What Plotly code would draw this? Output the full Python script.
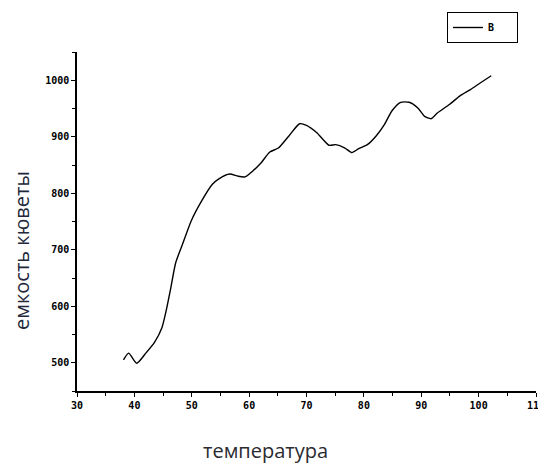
import plotly.graph_objects as go

temperature = [38.1, 39.0, 40.4, 42.0, 43.5, 44.8, 45.6, 46.3, 47.2, 48.4, 49.9, 51.7,
               53.6, 54.8, 56.6, 58.1, 59.3, 60.6, 62.1, 63.6, 65.1, 66.9, 68.8, 70.0,
               71.8, 73.9, 75.1, 76.7, 77.9, 79.1, 80.6, 82.1, 83.6, 84.9, 86.4, 87.9,
               89.4, 90.6, 91.7, 92.8, 94.9, 96.7, 98.5, 100.4, 102.2]
capacity = [505, 517, 499, 517, 536, 562, 595, 630, 677, 710, 751, 786,
            816, 826, 834, 830, 829, 839, 854, 873, 880, 901, 923, 920,
            907, 885, 886, 880, 872, 879, 886, 901, 922, 946, 961, 961,
            951, 936, 932, 942, 957, 972, 983, 996, 1008]
series_name = "B"
x_title = "температура"
y_title = "емкость кюветы"
x_ticks = [30, 40, 50, 60, 70, 80, 90, 100, 110]
y_ticks = [500, 600, 700, 800, 900, 1000]

tick_font = dict(family="DejaVu Sans Mono", size=10, color="black", weight="bold")

fig = go.Figure()
fig.add_trace(go.Scatter(x=temperature, y=capacity, mode="lines", name=series_name,
                         line=dict(color="black", width=1.4, shape="spline", smoothing=0.6)))

# page body has an 8px margin, so the figure is sized/offset to compensate
fig.update_layout(
    width=538, height=456,
    margin=dict(l=69, r=10, t=44, b=73, autoexpand=False),
    paper_bgcolor="white", plot_bgcolor="white",
    showlegend=True,
    legend=dict(x=0.806, y=1.118, xanchor="left", yanchor="top", orientation="h",
                bordercolor="black", borderwidth=1, bgcolor="white",
                font=tick_font, entrywidth=24, entrywidthmode="pixels"),
    xaxis=dict(range=[30, 110], tickvals=x_ticks, showgrid=False, zeroline=False,
               showline=True, linecolor="black", linewidth=1.5,
               ticks="outside", ticklen=4, tickwidth=1, tickcolor="black",
               tickfont=tick_font,
               minor=dict(ticks="outside", dtick=5, ticklen=3, tickcolor="black", showgrid=False)),
    yaxis=dict(range=[450, 1050], tickvals=y_ticks, showgrid=False, zeroline=False,
               showline=True, linecolor="black", linewidth=1.5,
               ticks="outside", ticklen=4, tickwidth=1, tickcolor="black",
               tickfont=tick_font,
               minor=dict(ticks="outside", dtick=50, ticklen=3, tickcolor="black", showgrid=False)),
    annotations=[
        dict(text=x_title, xref="paper", yref="paper", x=0.4096, y=-0.176,
             xanchor="center", yanchor="middle", showarrow=False,
             font=dict(family="Open Sans", size=20, color="#2a2a30")),
        dict(text=y_title, xref="paper", yref="paper", x=-0.12, y=0.416,
             xanchor="center", yanchor="middle", showarrow=False, textangle=-90,
             font=dict(family="Open Sans", size=20, color="#22283a")),
    ],
)

fig.write_html("out.html")
